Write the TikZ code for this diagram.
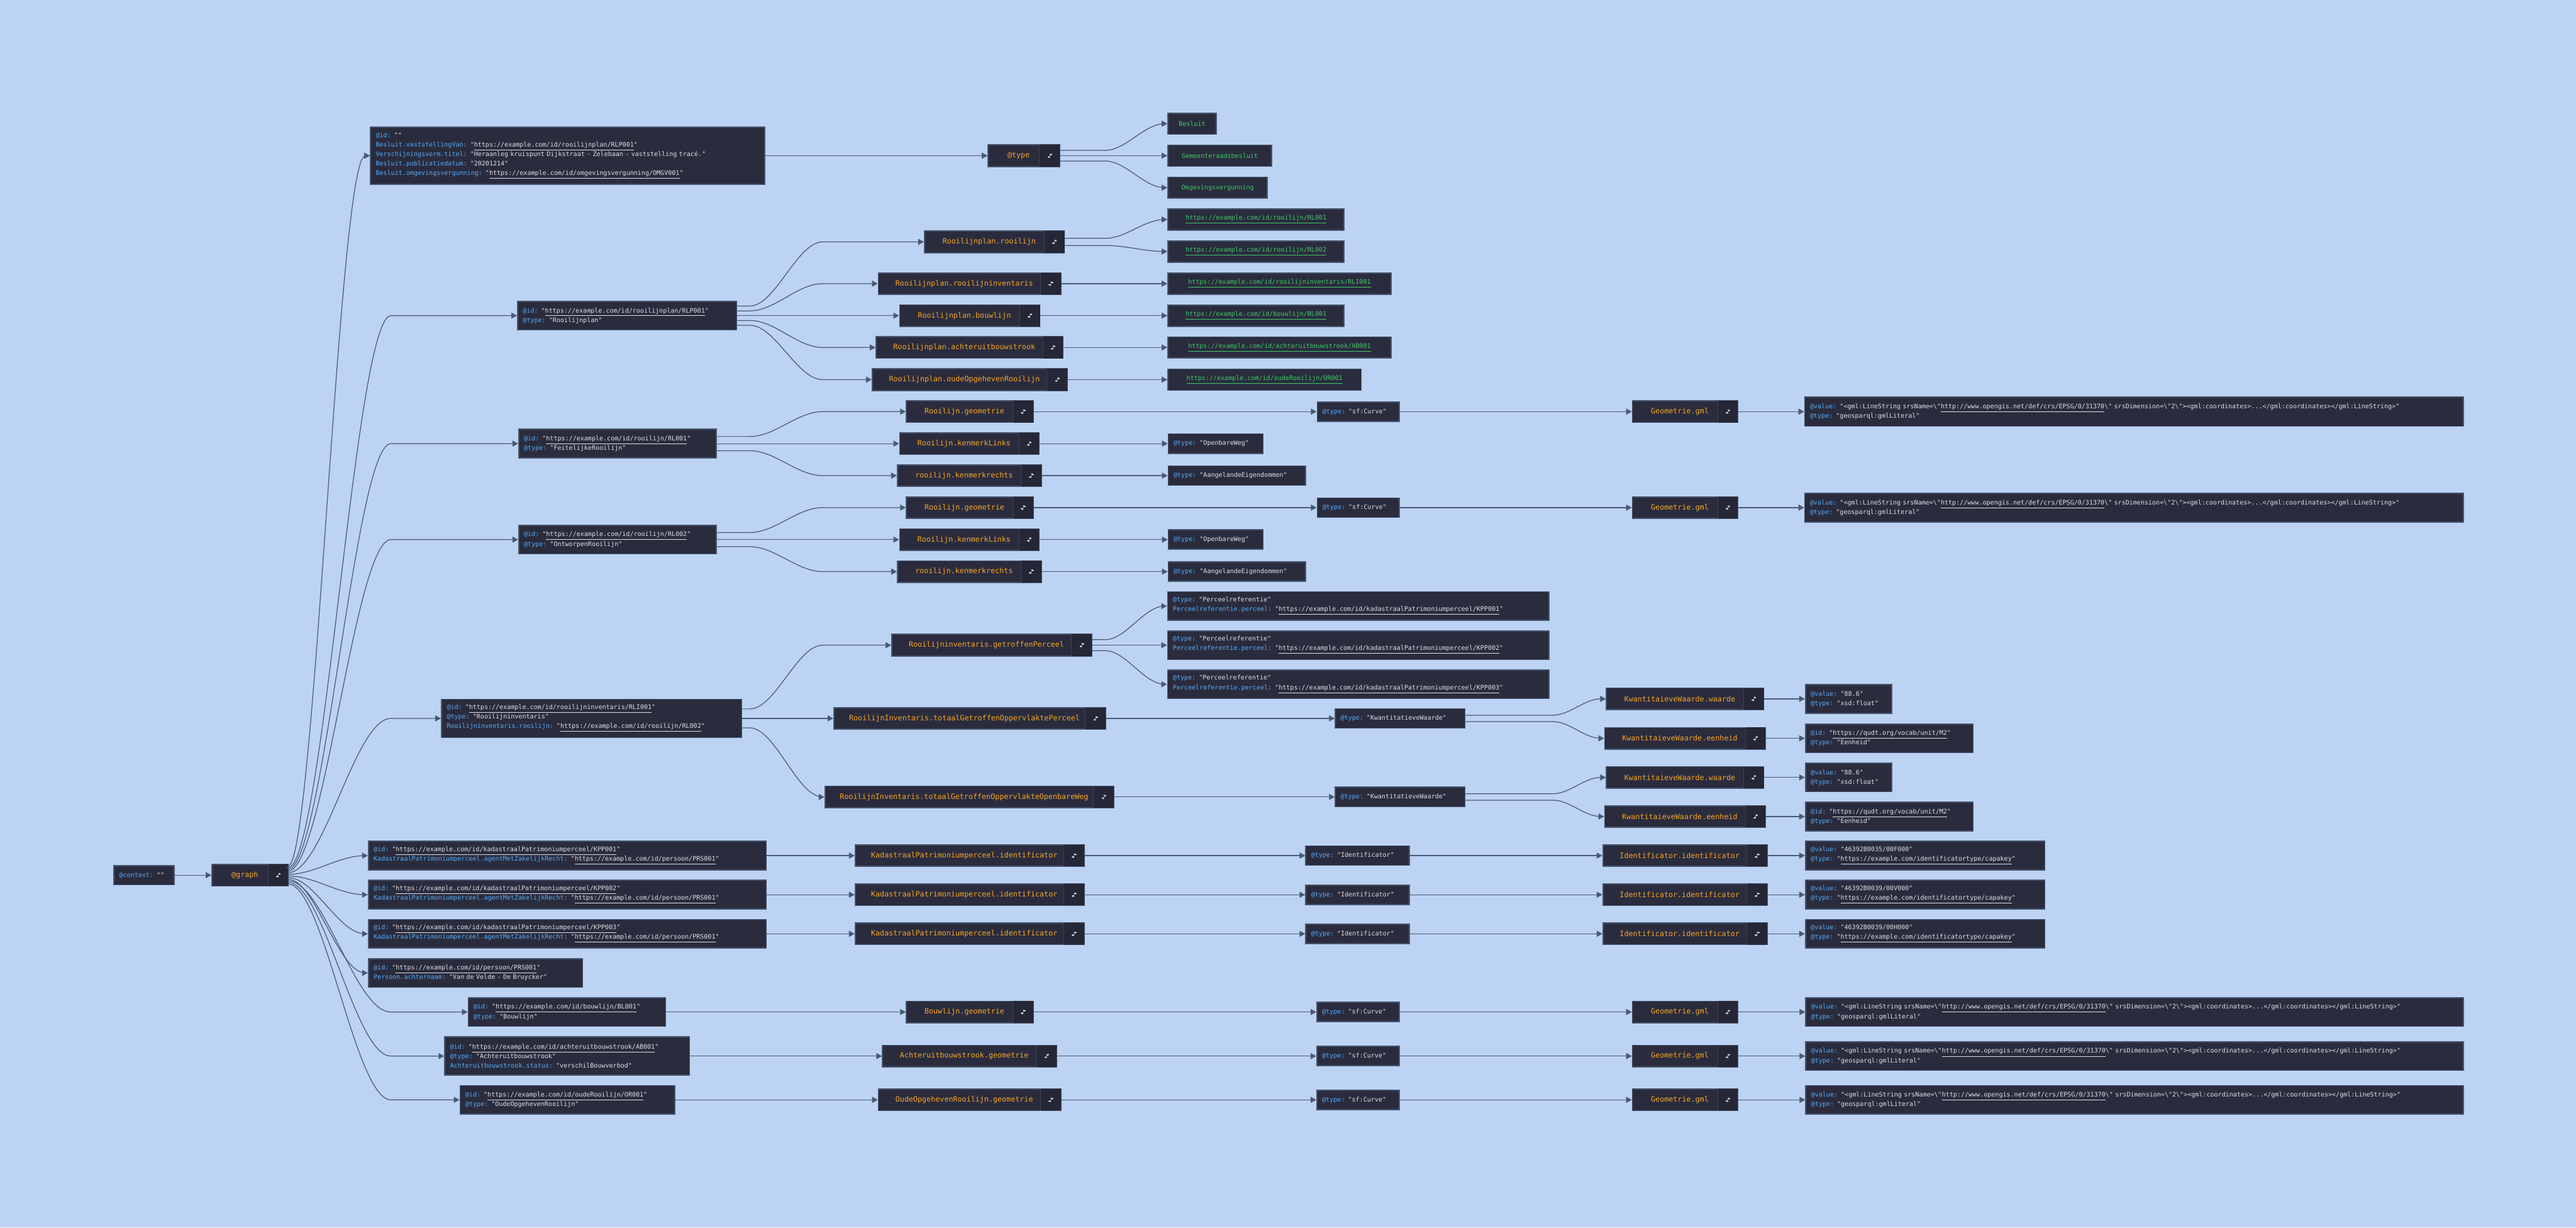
\documentclass[tikz,border=0pt]{standalone}
\usepackage{fontspec}
\usetikzlibrary{positioning,arrows.meta,calc}
\newfontfamily\codefont{DejaVu Sans Mono}[Ligatures=TeXOff]
\newcommand{\datafont}{\codefont\fontsize{5.06pt}{7.6pt}\selectfont}
\newcommand{\propfont}{\codefont\fontsize{5.9pt}{7.6pt}\selectfont}
\definecolor{CanvasBlue}{RGB}{189,211,243}
\definecolor{NodeInk}{RGB}{42,44,62}
\definecolor{NodeRim}{RGB}{72,86,112}
\definecolor{TogShade}{RGB}{37,39,55}
\definecolor{LinkSlate}{RGB}{74,90,117}
\definecolor{KeyBlue}{RGB}{88,170,245}
\definecolor{ValueGrey}{RGB}{222,222,226}
\definecolor{PropOrange}{RGB}{246,164,36}
\definecolor{LeafGreen}{RGB}{64,201,100}
\tikzset{
  link/.style={draw=LinkSlate,line width=0.22mm,-{Triangle[length=0.16cm,width=0.17cm]}},
  card/.style={draw=NodeRim,fill=NodeInk,line width=0.3mm,anchor=west,align=left,
    inner xsep=0.15cm,inner ysep=0pt,font=\datafont,text=ValueGrey},
  leaf/.style={draw=NodeRim,fill=NodeInk,line width=0.3mm,anchor=west,
    minimum height=0.6cm,inner xsep=0pt,font=\datafont,text=LeafGreen},
  prop/.style={draw=NodeRim,fill=NodeInk,line width=0.3mm,anchor=west,
    minimum height=0.61cm,font=\propfont,text=PropOrange,
    execute at end node={\hspace*{0.3cm}}}
}
\newcommand{\kv}[2]{{\color{KeyBlue}#1:} "#2"}
\newcommand{\ku}[2]{{\color{KeyBlue}#1:} "\underline{#2}"}
\newcommand{\gmlcard}{\kv{@value}{<gml:LineString srsName=\textbackslash"\underline{http://www.opengis.net/def/crs/EPSG/0/31370}\textbackslash" srsDimension=\textbackslash"2\textbackslash"><gml:coordinates>...</gml:coordinates></gml:LineString>}\\\kv{@type}{geosparql:gmlLiteral}}
% connector: port on the source, S-bend between two gap columns
\newcommand{\swoop}[5]{%
  \draw[link] let \p1=([yshift=#2]#1.east), \p2=(#3.west), \p3=(#4), \p4=(#5) in
    (\p1) -- (\x3,\y1) .. controls ({0.65*\x3+0.35*\x4},\y1) and ({0.35*\x3+0.65*\x4},\y2) .. (\x4,\y2) -- (\p2);}
% collapse button on the right of a property node
\newcommand{\collapser}[1]{%
  \fill[TogShade] ([xshift=-0.59cm,yshift=-0.015cm]#1.north east) rectangle ([xshift=-0.015cm,yshift=0.015cm]#1.south east);
  \draw[NodeRim!55!NodeInk,line width=0.1mm] ([xshift=-0.59cm,yshift=-0.015cm]#1.north east) -- ([xshift=-0.59cm,yshift=0.015cm]#1.south east);
  \coordinate (ic) at ([xshift=-0.295cm]#1.east);
  \draw[white,line width=0.14mm,-{Stealth[length=0.045cm,width=0.05cm]}] ([shift={(0.065,0.035)}]ic) -- ([shift={(0.005,0.035)}]ic);
  \draw[white,line width=0.14mm,-{Stealth[length=0.045cm,width=0.05cm]}] ([shift={(-0.065,-0.035)}]ic) -- ([shift={(-0.005,-0.035)}]ic);
  \draw[white,line width=0.1mm] ([shift={(0.01,0.065)}]ic) -- ([shift={(-0.01,-0.065)}]ic);}

\begin{document}
\begin{tikzpicture}
  \useasboundingbox (0,0) rectangle (72.49,-34.53);
  \fill[CanvasBlue] (0,0) rectangle (72.49,-34.53);
  % gap columns where the connectors bend
  \coordinate (ga1) at (8.10,0);
  \coordinate (gb1) at (10.28,0);
  \coordinate (gc1) at (11.00,0);
  \coordinate (ga2) at (21.10,0);
  \coordinate (gb2) at (23.15,0);
  \coordinate (ga3) at (31.10,0);
  \coordinate (gb3) at (32.78,0);
  \coordinate (ga4) at (43.70,0);
  \coordinate (gb4) at (45.05,0);

  % root
  \node[card,text width=1.40cm,minimum height=0.54cm] (ctx) at (3.19,-24.62) {\kv{@context}{}};
  \node[prop,minimum width=2.15cm] (graph) at (5.95,-24.62) {@graph};

  % graph members
  \node[card,text width=10.79cm,minimum height=1.61cm] (besluit) at (10.41,-4.38) {\kv{@id}{}\\
    \ku{Besluit.vaststellingVan}{https://example.com/id/rooilijnplan/RLP001}\\
    \kv{Verschijningsvorm.titel}{Heraanleg kruispunt Dijkstraat - Zelebaan - vaststelling tracé.}\\
    \kv{Besluit.publicatiedatum}{20201214}\\
    \ku{Besluit.omgevingsvergunning}{https://example.com/id/omgevingsvergunning/OMGV001}};
  \node[card,text width=5.87cm,minimum height=0.81cm] (rlp) at (14.55,-8.88) {\ku{@id}{https://example.com/id/rooilijnplan/RLP001}\\\kv{@type}{Rooilijnplan}};
  \node[card,text width=5.26cm,minimum height=0.81cm] (rl1) at (14.58,-12.48) {\ku{@id}{https://example.com/id/rooilijn/RL001}\\\kv{@type}{FeitelijkeRooilijn}};
  \node[card,text width=5.26cm,minimum height=0.81cm] (rl2) at (14.58,-15.18) {\ku{@id}{https://example.com/id/rooilijn/RL002}\\\kv{@type}{OntworpenRooilijn}};
  \node[card,text width=8.15cm,minimum height=1.08cm] (rli) at (12.41,-20.21) {\ku{@id}{https://example.com/id/rooilijninventaris/RLI001}\\
    \kv{@type}{Rooilijninventaris}\\\ku{Rooilijninventaris.rooilijn}{https://example.com/id/rooilijn/RL002}};
  \node[card,text width=10.90cm,minimum height=0.81cm] (kpp1) at (10.35,-24.07) {\ku{@id}{https://example.com/id/kadastraalPatrimoniumperceel/KPP001}\\\ku{KadastraalPatrimoniumperceel.agentMetZakelijkRecht}{https://example.com/id/persoon/PRS001}};
  \node[card,text width=10.90cm,minimum height=0.81cm] (kpp2) at (10.35,-25.17) {\ku{@id}{https://example.com/id/kadastraalPatrimoniumperceel/KPP002}\\\ku{KadastraalPatrimoniumperceel.agentMetZakelijkRecht}{https://example.com/id/persoon/PRS001}};
  \node[card,text width=10.90cm,minimum height=0.81cm] (kpp3) at (10.35,-26.27) {\ku{@id}{https://example.com/id/kadastraalPatrimoniumperceel/KPP003}\\\ku{KadastraalPatrimoniumperceel.agentMetZakelijkRecht}{https://example.com/id/persoon/PRS001}};
  \node[card,text width=5.73cm,minimum height=0.81cm] (prs) at (10.35,-27.37) {\ku{@id}{https://example.com/id/persoon/PRS001}\\\kv{Persoon.achternaam}{Van de Velde - De Bruycker}};
  \node[card,text width=5.26cm,minimum height=0.81cm] (bl) at (13.16,-28.47) {\ku{@id}{https://example.com/id/bouwlijn/BL001}\\\kv{@type}{Bouwlijn}};
  \node[card,text width=6.59cm,minimum height=1.08cm] (ab) at (12.50,-29.71) {\ku{@id}{https://example.com/id/achteruitbouwstrook/AB001}\\
    \kv{@type}{Achteruitbouwstrook}\\\kv{Achteruitbouwstrook.status}{verschilBouwverbod}};
  \node[card,text width=5.74cm,minimum height=0.81cm] (orl) at (12.93,-30.94) {\ku{@id}{https://example.com/id/oudeRooilijn/OR001}\\\kv{@type}{OudeOpgehevenRooilijn}};

  % properties
  \node[prop,minimum width=2.02cm] (typeB) at (27.79,-4.38) {@type};
  \node[prop,minimum width=3.94cm] (pRooilijn) at (26.00,-6.805) {Rooilijnplan.rooilijn};
  \node[prop,minimum width=5.14cm] (pInv) at (24.70,-7.98) {Rooilijnplan.rooilijninventaris};
  \node[prop,minimum width=3.95cm] (pBouw) at (25.30,-8.88) {Rooilijnplan.bouwlijn};
  \node[prop,minimum width=5.26cm] (pAchter) at (24.64,-9.775) {Rooilijnplan.achteruitbouwstrook};
  \node[prop,minimum width=5.49cm] (pOude) at (24.53,-10.68) {Rooilijnplan.oudeOpgehevenRooilijn};
  \node[prop,minimum width=3.57cm] (g1Geo) at (25.49,-11.58) {Rooilijn.geometrie};
  \node[prop,minimum width=3.93cm] (g1Links) at (25.30,-12.48) {Rooilijn.kenmerkLinks};
  \node[prop,minimum width=4.05cm] (g1Rechts) at (25.24,-13.38) {rooilijn.kenmerkrechts};
  \node[prop,minimum width=3.57cm] (g2Geo) at (25.49,-14.28) {Rooilijn.geometrie};
  \node[prop,minimum width=3.93cm] (g2Links) at (25.30,-15.18) {Rooilijn.kenmerkLinks};
  \node[prop,minimum width=4.05cm] (g2Rechts) at (25.24,-16.08) {rooilijn.kenmerkrechts};
  \node[prop,minimum width=5.63cm] (pGetr) at (25.08,-18.15) {Rooilijninventaris.getroffenPerceel};
  \node[prop,minimum width=7.65cm] (pOppP) at (23.45,-20.21) {RooilijnInventaris.totaalGetroffenOppervlaktePerceel};
  \node[prop,minimum width=8.13cm] (pOppW) at (23.20,-22.42) {RooilijnInventaris.totaalGetroffenOppervlakteOpenbareWeg};
  \node[prop,minimum width=6.44cm] (pId1) at (24.05,-24.07) {KadastraalPatrimoniumperceel.identificator};
  \node[prop,minimum width=6.44cm] (pId2) at (24.05,-25.17) {KadastraalPatrimoniumperceel.identificator};
  \node[prop,minimum width=6.44cm] (pId3) at (24.05,-26.27) {KadastraalPatrimoniumperceel.identificator};
  \node[prop,minimum width=3.57cm] (pBlGeo) at (25.49,-28.47) {Bouwlijn.geometrie};
  \node[prop,minimum width=4.90cm] (pAbGeo) at (24.82,-29.71) {Achteruitbouwstrook.geometrie};
  \node[prop,minimum width=5.14cm] (pOrGeo) at (24.70,-30.94) {OudeOpgehevenRooilijn.geometrie};

  % values, fourth column
  \node[leaf,minimum width=1.36cm] (lBesluit) at (32.85,-3.48) {Besluit};
  \node[leaf,minimum width=2.92cm] (lGemeente) at (32.85,-4.38) {Gemeenteraadsbesluit};
  \node[leaf,minimum width=2.80cm] (lOmgeving) at (32.85,-5.28) {Omgevingsvergunning};
  \node[leaf,minimum width=4.96cm] (uRl1) at (32.85,-6.175) {\underline{https://example.com/id/rooilijn/RL001}};
  \node[leaf,minimum width=4.96cm] (uRl2) at (32.85,-7.075) {\underline{https://example.com/id/rooilijn/RL002}};
  \node[leaf,minimum width=6.28cm] (uRli) at (32.85,-7.98) {\underline{https://example.com/id/rooilijninventaris/RLI001}};
  \node[leaf,minimum width=4.96cm] (uBl) at (32.85,-8.88) {\underline{https://example.com/id/bouwlijn/BL001}};
  \node[leaf,minimum width=6.28cm] (uAb) at (32.85,-9.775) {\underline{https://example.com/id/achteruitbouwstrook/AB001}};
  \node[leaf,minimum width=5.44cm] (uOr) at (32.85,-10.68) {\underline{https://example.com/id/oudeRooilijn/OR001}};
  \node[card,text width=2.01cm,minimum height=0.55cm] (curve1) at (37.05,-11.58) {\kv{@type}{sf:Curve}};
  \node[card,text width=2.37cm,minimum height=0.55cm] (weg1) at (32.86,-12.48) {\kv{@type}{OpenbareWeg}};
  \node[card,text width=3.57cm,minimum height=0.55cm] (aang1) at (32.86,-13.38) {\kv{@type}{AangelandeEigendommen}};
  \node[card,text width=2.01cm,minimum height=0.55cm] (curve2) at (37.05,-14.28) {\kv{@type}{sf:Curve}};
  \node[card,text width=2.37cm,minimum height=0.55cm] (weg2) at (32.86,-15.18) {\kv{@type}{OpenbareWeg}};
  \node[card,text width=3.57cm,minimum height=0.55cm] (aang2) at (32.86,-16.08) {\kv{@type}{AangelandeEigendommen}};
  \node[card,text width=10.43cm,minimum height=0.81cm] (perc1) at (32.84,-17.05) {\kv{@type}{Perceelreferentie}\\\ku{Perceelreferentie.perceel}{https://example.com/id/kadastraalPatrimoniumperceel/KPP001}};
  \node[card,text width=10.43cm,minimum height=0.81cm] (perc2) at (32.84,-18.15) {\kv{@type}{Perceelreferentie}\\\ku{Perceelreferentie.perceel}{https://example.com/id/kadastraalPatrimoniumperceel/KPP002}};
  \node[card,text width=10.43cm,minimum height=0.81cm] (perc3) at (32.84,-19.25) {\kv{@type}{Perceelreferentie}\\\ku{Perceelreferentie.perceel}{https://example.com/id/kadastraalPatrimoniumperceel/KPP003}};
  \node[card,text width=3.35cm,minimum height=0.55cm] (kw1) at (37.56,-20.21) {\kv{@type}{KwantitatieveWaarde}};
  \node[card,text width=3.35cm,minimum height=0.55cm] (kw2) at (37.56,-22.42) {\kv{@type}{KwantitatieveWaarde}};
  \node[card,text width=2.61cm,minimum height=0.55cm] (idT1) at (36.73,-24.07) {\kv{@type}{Identificator}};
  \node[card,text width=2.61cm,minimum height=0.55cm] (idT2) at (36.73,-25.17) {\kv{@type}{Identificator}};
  \node[card,text width=2.61cm,minimum height=0.55cm] (idT3) at (36.73,-26.27) {\kv{@type}{Identificator}};
  \node[card,text width=2.02cm,minimum height=0.55cm] (curveBl) at (37.04,-28.47) {\kv{@type}{sf:Curve}};
  \node[card,text width=2.02cm,minimum height=0.55cm] (curveAb) at (37.04,-29.71) {\kv{@type}{sf:Curve}};
  \node[card,text width=2.02cm,minimum height=0.55cm] (curveOr) at (37.04,-30.94) {\kv{@type}{sf:Curve}};

  % fifth column
  \node[prop,minimum width=2.97cm] (gml1) at (45.92,-11.58) {Geometrie.gml};
  \node[prop,minimum width=2.97cm] (gml2) at (45.92,-14.28) {Geometrie.gml};
  \node[prop,minimum width=4.43cm] (waarde1) at (45.19,-19.66) {KwantitaieveWaarde.waarde};
  \node[prop,minimum width=4.53cm] (eenheid1) at (45.14,-20.77) {KwantitaieveWaarde.eenheid};
  \node[prop,minimum width=4.43cm] (waarde2) at (45.19,-21.87) {KwantitaieveWaarde.waarde};
  \node[prop,minimum width=4.53cm] (eenheid2) at (45.14,-22.97) {KwantitaieveWaarde.eenheid};
  \node[prop,minimum width=4.62cm] (idI1) at (45.09,-24.07) {Identificator.identificator};
  \node[prop,minimum width=4.62cm] (idI2) at (45.09,-25.17) {Identificator.identificator};
  \node[prop,minimum width=4.62cm] (idI3) at (45.09,-26.27) {Identificator.identificator};
  \node[prop,minimum width=2.97cm] (gmlBl) at (45.92,-28.47) {Geometrie.gml};
  \node[prop,minimum width=2.97cm] (gmlAb) at (45.92,-29.71) {Geometrie.gml};
  \node[prop,minimum width=2.97cm] (gmlOr) at (45.92,-30.94) {Geometrie.gml};

  % sixth column
  \node[card,text width=18.23cm,minimum height=0.82cm] (val1) at (50.77,-11.58) {\gmlcard};
  \node[card,text width=18.23cm,minimum height=0.82cm] (val2) at (50.77,-14.28) {\gmlcard};
  \node[card,text width=2.13cm,minimum height=0.81cm] (f1) at (50.79,-19.66) {\kv{@value}{88.6}\\\kv{@type}{xsd:float}};
  \node[card,text width=4.42cm,minimum height=0.81cm] (unit1) at (50.79,-20.77) {\ku{@id}{https://qudt.org/vocab/unit/M2}\\\kv{@type}{Eenheid}};
  \node[card,text width=2.13cm,minimum height=0.81cm] (f2) at (50.79,-21.87) {\kv{@value}{88.6}\\\kv{@type}{xsd:float}};
  \node[card,text width=4.42cm,minimum height=0.81cm] (unit2) at (50.79,-22.97) {\ku{@id}{https://qudt.org/vocab/unit/M2}\\\kv{@type}{Eenheid}};
  \node[card,text width=6.44cm,minimum height=0.81cm] (idV1) at (50.79,-24.07) {\kv{@value}{46392B0035/00F000}\\\ku{@type}{https://example.com/identificatortype/capakey}};
  \node[card,text width=6.44cm,minimum height=0.81cm] (idV2) at (50.79,-25.17) {\kv{@value}{46392B0039/00V000}\\\ku{@type}{https://example.com/identificatortype/capakey}};
  \node[card,text width=6.44cm,minimum height=0.81cm] (idV3) at (50.79,-26.27) {\kv{@value}{46392B0039/00H000}\\\ku{@type}{https://example.com/identificatortype/capakey}};
  \node[card,text width=18.21cm,minimum height=0.81cm] (valBl) at (50.80,-28.47) {\gmlcard};
  \node[card,text width=18.21cm,minimum height=0.81cm] (valAb) at (50.80,-29.71) {\gmlcard};
  \node[card,text width=18.21cm,minimum height=0.81cm] (valOr) at (50.80,-30.94) {\gmlcard};

  \foreach \n in {graph,typeB,pRooilijn,pInv,pBouw,pAchter,pOude,g1Geo,g1Links,g1Rechts,
    g2Geo,g2Links,g2Rechts,pGetr,pOppP,pOppW,pId1,pId2,pId3,pBlGeo,pAbGeo,pOrGeo,
    gml1,gml2,waarde1,eenheid1,waarde2,eenheid2,idI1,idI2,idI3,gmlBl,gmlAb,gmlOr}
    {\collapser{\n}}

  % connectors from the root
  \draw[link] (ctx) -- (graph);
  \swoop{graph}{0.2475cm}{besluit}{ga1}{gb1}
  \swoop{graph}{0.2025cm}{rlp}{ga1}{gc1}
  \swoop{graph}{0.1575cm}{rl1}{ga1}{gc1}
  \swoop{graph}{0.1125cm}{rl2}{ga1}{gc1}
  \swoop{graph}{0.0675cm}{rli}{ga1}{gc1}
  \swoop{graph}{0.0225cm}{kpp1}{ga1}{gb1}
  \swoop{graph}{-0.0225cm}{kpp2}{ga1}{gb1}
  \swoop{graph}{-0.0675cm}{kpp3}{ga1}{gb1}
  \swoop{graph}{-0.1125cm}{prs}{ga1}{gb1}
  \swoop{graph}{-0.1575cm}{bl}{ga1}{gc1}
  \swoop{graph}{-0.2025cm}{ab}{ga1}{gc1}
  \swoop{graph}{-0.2475cm}{orl}{ga1}{gc1}

  % besluit
  \draw[link] (besluit) -- (typeB);
  \swoop{typeB}{0.15cm}{lBesluit}{ga3}{gb3}
  \swoop{typeB}{0cm}{lGemeente}{ga3}{gb3}
  \swoop{typeB}{-0.15cm}{lOmgeving}{ga3}{gb3}

  % rooilijnplan
  \swoop{rlp}{0.27cm}{pRooilijn}{ga2}{gb2}
  \swoop{rlp}{0.135cm}{pInv}{ga2}{gb2}
  \swoop{rlp}{0cm}{pBouw}{ga2}{gb2}
  \swoop{rlp}{-0.135cm}{pAchter}{ga2}{gb2}
  \swoop{rlp}{-0.27cm}{pOude}{ga2}{gb2}
  \swoop{pRooilijn}{0.10cm}{uRl1}{ga3}{gb3}
  \swoop{pRooilijn}{-0.10cm}{uRl2}{ga3}{gb3}
  \draw[link] (pInv) -- (uRli);
  \draw[link] (pBouw) -- (uBl);
  \draw[link] (pAchter) -- (uAb);
  \draw[link] (pOude) -- (uOr);

  % rooilijnen
  \swoop{rl1}{0.20cm}{g1Geo}{ga2}{gb2}
  \swoop{rl1}{0cm}{g1Links}{ga2}{gb2}
  \swoop{rl1}{-0.20cm}{g1Rechts}{ga2}{gb2}
  \swoop{rl2}{0.20cm}{g2Geo}{ga2}{gb2}
  \swoop{rl2}{0cm}{g2Links}{ga2}{gb2}
  \swoop{rl2}{-0.20cm}{g2Rechts}{ga2}{gb2}
  \draw[link] (g1Geo) -- (curve1);
  \draw[link] (curve1) -- (gml1);
  \draw[link] (gml1) -- (val1);
  \draw[link] (g1Links) -- (weg1);
  \draw[link] (g1Rechts) -- (aang1);
  \draw[link] (g2Geo) -- (curve2);
  \draw[link] (curve2) -- (gml2);
  \draw[link] (gml2) -- (val2);
  \draw[link] (g2Links) -- (weg2);
  \draw[link] (g2Rechts) -- (aang2);

  % rooilijninventaris
  \swoop{rli}{0.267cm}{pGetr}{ga2}{gb2}
  \swoop{rli}{0cm}{pOppP}{ga2}{gb2}
  \swoop{rli}{-0.267cm}{pOppW}{ga2}{gb2}
  \swoop{pGetr}{0.155cm}{perc1}{ga3}{gb3}
  \swoop{pGetr}{0cm}{perc2}{ga3}{gb3}
  \swoop{pGetr}{-0.155cm}{perc3}{ga3}{gb3}
  \draw[link] (pOppP) -- (kw1);
  \draw[link] (pOppW) -- (kw2);
  \swoop{kw1}{0.09cm}{waarde1}{ga4}{gb4}
  \swoop{kw1}{-0.09cm}{eenheid1}{ga4}{gb4}
  \swoop{kw2}{0.09cm}{waarde2}{ga4}{gb4}
  \swoop{kw2}{-0.09cm}{eenheid2}{ga4}{gb4}
  \draw[link] (waarde1) -- (f1);
  \draw[link] (eenheid1) -- (unit1);
  \draw[link] (waarde2) -- (f2);
  \draw[link] (eenheid2) -- (unit2);

  % kadastrale percelen
  \draw[link] (kpp1) -- (pId1);
  \draw[link] (pId1) -- (idT1);
  \draw[link] (idT1) -- (idI1);
  \draw[link] (idI1) -- (idV1);
  \draw[link] (kpp2) -- (pId2);
  \draw[link] (pId2) -- (idT2);
  \draw[link] (idT2) -- (idI2);
  \draw[link] (idI2) -- (idV2);
  \draw[link] (kpp3) -- (pId3);
  \draw[link] (pId3) -- (idT3);
  \draw[link] (idT3) -- (idI3);
  \draw[link] (idI3) -- (idV3);

  % bouwlijn, achteruitbouwstrook, oude rooilijn
  \draw[link] (bl) -- (pBlGeo);
  \draw[link] (pBlGeo) -- (curveBl);
  \draw[link] (curveBl) -- (gmlBl);
  \draw[link] (gmlBl) -- (valBl);
  \draw[link] (ab) -- (pAbGeo);
  \draw[link] (pAbGeo) -- (curveAb);
  \draw[link] (curveAb) -- (gmlAb);
  \draw[link] (gmlAb) -- (valAb);
  \draw[link] (orl) -- (pOrGeo);
  \draw[link] (pOrGeo) -- (curveOr);
  \draw[link] (curveOr) -- (gmlOr);
  \draw[link] (gmlOr) -- (valOr);
\end{tikzpicture}
\end{document}
